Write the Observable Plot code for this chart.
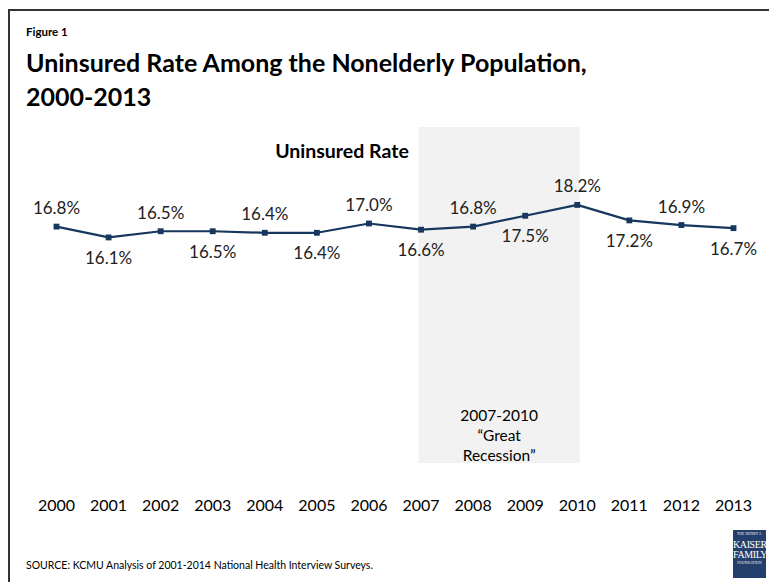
<!DOCTYPE html>
<html>
<head>
<meta charset="utf-8">
<script src="https://cdn.jsdelivr.net/npm/d3@7"></script>
<script src="https://cdn.jsdelivr.net/npm/@observablehq/plot@0.6"></script>
<style>
  html, body { margin: 0; padding: 0; background: #fff; overflow: hidden; }
  body { width: 769px; height: 582px; position: relative; font-family: Lato, "Open Sans", sans-serif; }
  .frame { position: absolute; left: 8px; top: 9px; width: 800px; height: 620px; border-left: 2.5px solid #333; border-top: 2.5px solid #333; }
  .fig { position: absolute; left: 26px; top: 25px; font-size: 11.5px; font-weight: 700; color: #000; }
  .title { position: absolute; left: 26px; top: 45px; font-size: 25px; line-height: 34px; font-weight: 700; color: #000; }
  .sub { position: absolute; left: 0; width: 684px; text-align: center; top: 139px; font-size: 19.5px; font-weight: 700; color: #000; }
  #chart { position: absolute; left: 0; top: 120px; }
  .source { position: absolute; left: 26px; top: 559px; font-size: 10.5px; color: #000; }
  .logo { position: absolute; left: 733px; top: 530px; width: 33px; height: 48px; background: #243f6b; color: #fff; font-family: "Liberation Serif", serif; text-align: center; line-height: 1; }
  .logo .s { font-size: 3.5px; padding-top: 3px; letter-spacing: 0.2px; }
  .logo .b { font-size: 10px; letter-spacing: -0.4px; }
</style>
</head>
<body>
<div class="frame"></div>
<div class="fig">Figure 1</div>
<div class="title">Uninsured Rate Among the Nonelderly Population,<br>2000-2013</div>
<div class="sub">Uninsured Rate</div>
<div id="chart"></div>
<div class="source">SOURCE: KCMU Analysis of 2001-2014 National Health Interview Surveys.</div>
<div class="logo"><div class="s">THE HENRY J.</div><div class="b" style="margin-top:3px">KAISER</div><div class="b">FAMILY</div><div class="s" style="padding-top:2px">FOUNDATION</div></div>
<script>
const years = [2000, 2001, 2002, 2003, 2004, 2005, 2006, 2007, 2008, 2009, 2010, 2011, 2012, 2013];
const rates = [16.8, 16.1, 16.5, 16.5, 16.4, 16.4, 17.0, 16.6, 16.8, 17.5, 18.2, 17.2, 16.9, 16.7];
const recessionStart = 2007;
const recessionEnd = 2010;
const recessionLabel = "2007-2010\n\u201CGreat\nRecession\u201D";

const data = years.map((y, i) => ({year: y, rate: rates[i], label: rates[i].toFixed(1) + "%", i}));
const above = data.filter(d => d.i % 2 === 0);
const below = data.filter(d => d.i % 2 === 1);
const navy = "#17375e";

const chart = Plot.plot({
  width: 769,
  height: 400,
  marginTop: 7,
  marginBottom: 57,
  marginLeft: 56,
  marginRight: 36,
  style: {fontFamily: "Lato, 'Open Sans', sans-serif", fontSize: "16px", color: "#000", background: "transparent"},
  x: {type: "linear", domain: [years[0], years[years.length - 1]]},
  y: {domain: [1.5, 23.2], axis: null},
  marks: [
    Plot.rectX([{x1: recessionStart, x2: recessionEnd}], {x1: "x1", x2: "x2", fill: "#f2f2f2", insetLeft: -2, insetRight: -3}),
    Plot.text([recessionLabel], {x: (recessionStart + recessionEnd) / 2, frameAnchor: "bottom", lineAnchor: "bottom", dy: -3, text: d => d, fontSize: 15.5, fill: "#000", lineHeight: 1.28}),
    Plot.line(data, {x: "year", y: "rate", stroke: navy, strokeWidth: 2.2}),
    Plot.dot(data, {x: "year", y: "rate", symbol: "square", r: 3.3, fill: navy, stroke: "none"}),
    Plot.text(above, {x: "year", y: "rate", text: "label", dy: -18, fill: "#222", fontSize: 17}),
    Plot.text(below, {x: "year", y: "rate", text: "label", dy: 21, fill: "#222", fontSize: 17}),
    Plot.axisX({ticks: years, tickFormat: d => String(d), tickSize: 0, tickPadding: 36, fontSize: 16, fill: "#000"})
  ]
});
document.getElementById("chart").appendChild(chart);
</script>
</body>
</html>
